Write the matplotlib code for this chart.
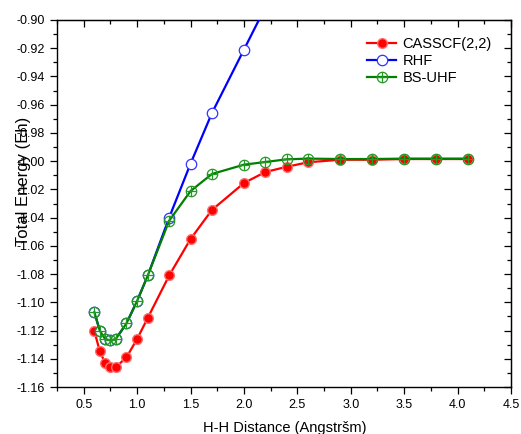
import matplotlib
matplotlib.use("Agg")
import matplotlib.pyplot as plt
from matplotlib.ticker import MultipleLocator, FormatStrFormatter

plt.rcParams["font.family"] = ["Liberation Sans Narrow", "Liberation Sans", "DejaVu Sans"]

# H-H distance (Angstrom) and total energies (Eh)
cas_x = [0.6, 0.65, 0.7, 0.75, 0.8, 0.9, 1.0, 1.1, 1.3, 1.5, 1.7, 2.0, 2.2, 2.4, 2.6, 2.9, 3.2, 3.5, 3.8, 4.1]
cas_e = [-1.1205, -1.1345, -1.1430, -1.1460, -1.1460, -1.1390, -1.1260, -1.1110, -1.0810, -1.0552,
         -1.0346, -1.0155, -1.0077, -1.0040, -1.0008, -0.9990, -0.9990, -0.9985, -0.9985, -0.9985]

rhf_x = [0.6, 0.65, 0.7, 0.75, 0.8, 0.9, 1.0, 1.1, 1.3, 1.5, 1.7, 2.0, 2.2]
rhf_e = [-1.107, -1.120, -1.126, -1.127, -1.126, -1.115, -1.099, -1.081, -1.040, -1.0018,
         -0.9660, -0.9210, -0.8910]

uhf_x = [0.6, 0.65, 0.7, 0.75, 0.8, 0.9, 1.0, 1.1, 1.3, 1.5, 1.7, 2.0, 2.2, 2.4, 2.6, 2.9, 3.2, 3.5, 3.8, 4.1]
uhf_e = [-1.107, -1.120, -1.126, -1.127, -1.126, -1.115, -1.099, -1.081, -1.0422, -1.0212,
         -1.0091, -1.0025, -1.0006, -0.9987, -0.9982, -0.9985, -0.9985, -0.9982, -0.9982, -0.9982]

fig = plt.figure(figsize=(5.21, 4.34), dpi=100)
ax = fig.add_axes([57 / 521, 1 - 387 / 434, 454 / 521, 367 / 434])

h_cas, = ax.plot(cas_x, cas_e, "-o", color="#ff0000", lw=1.6, ms=7, mfc="#ff0000", mec="#ff7070", mew=1.0,
                 zorder=3)
h_rhf, = ax.plot(rhf_x, rhf_e, "-o", color="#0000ff", lw=1.6, ms=7.5, mfc="white", mec="#3333ff", mew=0.9,
                 zorder=4)
h_uhf, = ax.plot(uhf_x, uhf_e, "-o", color="#008000", lw=1.6, ms=7.5, mfc="none", mec="#229922", mew=0.9,
                 zorder=5)
h_plus, = ax.plot(uhf_x, uhf_e, "+", ms=7.5, color="#229922", mew=0.9, zorder=6)

ax.set_xlim(0.25, 4.5)
ax.set_ylim(-1.16, -0.90)
ax.set_xticks([0.5, 1.0, 1.5, 2.0, 2.5, 3.0, 3.5, 4.0, 4.5])
ax.xaxis.set_minor_locator(MultipleLocator(0.25))
ax.yaxis.set_major_locator(MultipleLocator(0.02))
ax.yaxis.set_minor_locator(MultipleLocator(0.01))
ax.xaxis.set_major_formatter(FormatStrFormatter("%.1f"))
ax.yaxis.set_major_formatter(FormatStrFormatter("%.2f"))

ax.tick_params(which="both", direction="out", labelsize=9, width=0.9, top=False, right=False)
ax.tick_params(which="major", length=5)
ax.tick_params(which="minor", length=3)

# mirrored inward ticks on top and right
ax2 = ax.secondary_xaxis("top")
ax2.set_xticks([0.5, 1.0, 1.5, 2.0, 2.5, 3.0, 3.5, 4.0, 4.5])
ax2.xaxis.set_minor_locator(MultipleLocator(0.25))
ax2.tick_params(which="both", direction="in", labeltop=False, width=0.9)
ax2.tick_params(which="major", length=5)
ax2.tick_params(which="minor", length=3)
ay2 = ax.secondary_yaxis("right")
ay2.yaxis.set_major_locator(MultipleLocator(0.02))
ay2.yaxis.set_minor_locator(MultipleLocator(0.01))
ay2.tick_params(which="both", direction="in", labelright=False, width=0.9)
ay2.tick_params(which="major", length=5)
ay2.tick_params(which="minor", length=3)
for sp in ax.spines.values():
    sp.set_linewidth(1.0)

ax.set_xlabel("H-H Distance (Angstršm)", fontsize=10.5)
ax.set_ylabel("Total Energy (Eh)", fontsize=12)
ax.yaxis.set_label_coords(-0.057, 0.56)
ax.xaxis.set_label_coords(0.502, -0.093)

ax.legend([h_cas, h_rhf, (h_uhf, h_plus)], ["CASSCF(2,2)", "RHF", "BS-UHF"],
          loc="upper right", bbox_to_anchor=(0.97, 0.97), frameon=False, fontsize=10.5,
          handlelength=2.0, handletextpad=0.4, labelspacing=0.2, borderaxespad=0)

fig.savefig("out.png", dpi=100)
